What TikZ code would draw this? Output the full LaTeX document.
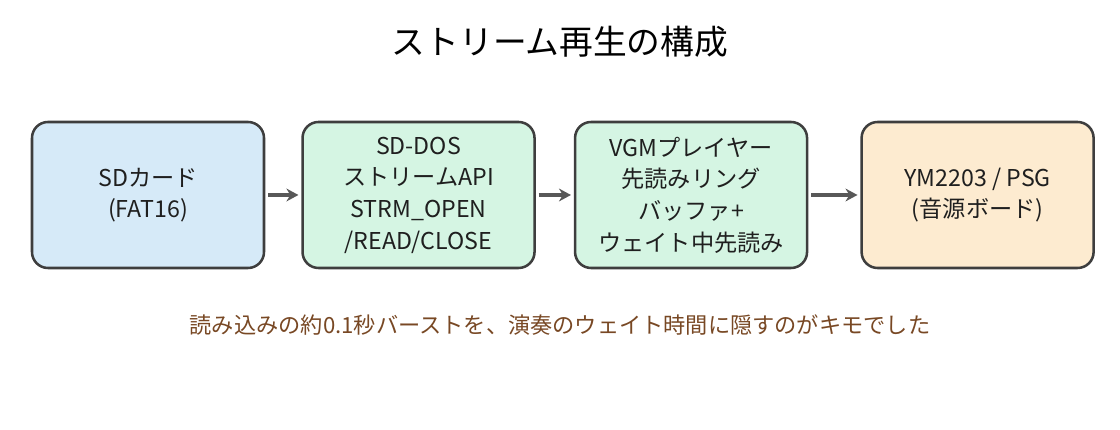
\documentclass[tikz,border=0pt]{standalone}
\usepackage{fontspec}
\setmainfont{Noto Sans CJK JP}
\usetikzlibrary{positioning, arrows.meta}
\definecolor{BoxLine}{RGB}{62,62,62}
\definecolor{ArrowGray}{RGB}{88,88,88}
\definecolor{SdBlue}{RGB}{214,234,248}
\definecolor{DosGreen}{RGB}{213,245,227}
\definecolor{ChipOrange}{RGB}{253,235,208}
\definecolor{NoteBrown}{RGB}{120,72,36}
\tikzstyle{block} = [draw=BoxLine, line width=1.8pt, rounded corners=0.4cm, minimum width=5.8cm, minimum height=3.65cm, align=center, text=black!88, font=\fontsize{16.5}{22.5}\selectfont]
\tikzstyle{arrow} = [ArrowGray, line width=2.2pt, -{Stealth[length=0.3cm, width=0.32cm]}, shorten <=2pt, shorten >=2pt]

\begin{document}
\begin{tikzpicture}
    \useasboundingbox (0,0) rectangle (28,10.75);
    \node[font=\fontsize{24}{28}\selectfont] (title) at (14,9.7) {ストリーム再生の構成};

    \node[block, fill=SdBlue] (sdcard) at (3.7,5.875) {SDカード\\(FAT16)};
    \node[block, fill=DosGreen, right=0.9cm of sdcard] (sddos) {SD-DOS\\ストリームAPI\\STRM\_OPEN\\/READ/CLOSE};
    \node[block, fill=DosGreen, right=0.95cm of sddos] (player) {VGMプレイヤー\\先読みリング\\バッファ+\\ウェイト中先読み};
    \node[block, fill=ChipOrange, right=1.3cm of player] (chip) {YM2203 / PSG\\(音源ボード)};

    \draw[arrow] (sdcard) -- (sddos);
    \draw[arrow] (sddos) -- (player);
    \draw[arrow] (player) -- (chip);

    \node[text=NoteBrown, font=\fontsize{15.8}{18}\selectfont] (note) at (14,2.625) {読み込みの約0.1秒バーストを、演奏のウェイト時間に隠すのがキモでした};
\end{tikzpicture}
\end{document}
